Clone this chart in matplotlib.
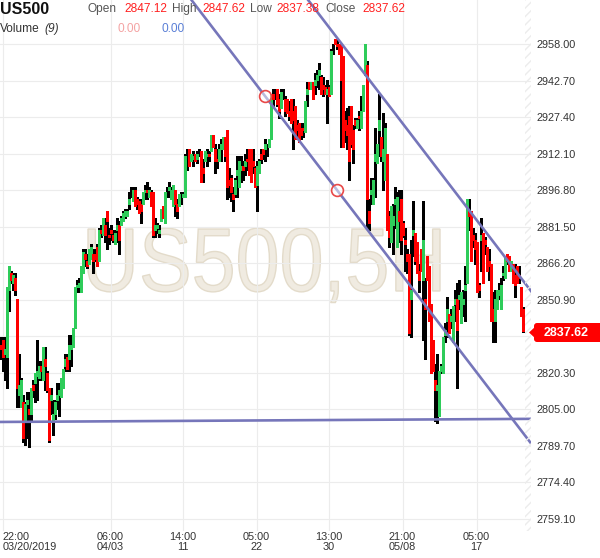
import matplotlib.pyplot as plt
import numpy as np
from matplotlib.patches import FancyBboxPatch, Polygon, Rectangle, PathPatch
from matplotlib.textpath import TextPath
from matplotlib.font_manager import FontProperties
from matplotlib.transforms import IdentityTransform, Affine2D

plt.rcParams['font.family'] = ['Liberation Sans', 'DejaVu Sans']

# US500 5H bars
opens = [
    2832, 2834, 2828, 2827, 2855, 2862, 2858, 2860, 2851, 2811,
    2806, 2808, 2800, 2807, 2805, 2803, 2815, 2816, 2819, 2818,
    2823, 2817, 2826, 2820, 2814, 2809, 2800, 2803, 2809, 2811,
    2810, 2814, 2823, 2827, 2826, 2830, 2831, 2839, 2856, 2856,
    2854, 2862, 2870, 2867, 2866, 2868, 2870, 2870, 2873, 2867,
    2880, 2878, 2882, 2888, 2878, 2880, 2878, 2874, 2880, 2882,
    2882, 2884, 2886, 2886, 2891, 2896, 2892, 2897, 2893, 2892,
    2891, 2891, 2896, 2897, 2894, 2896, 2896, 2880, 2881, 2879,
    2884, 2890, 2883, 2896, 2897, 2893, 2890, 2897, 2891, 2890,
    2893, 2894, 2894, 2909, 2914, 2909, 2910, 2912, 2910, 2912,
    2913, 2906, 2909, 2911, 2912, 2913, 2920, 2914, 2910, 2909,
    2914, 2914, 2919, 2922, 2901, 2902, 2895, 2895, 2903, 2898,
    2905, 2907, 2907, 2910, 2914, 2914, 2909, 2906, 2899, 2904,
    2912, 2914, 2914, 2914, 2915, 2918, 2937, 2937, 2939, 2935,
    2931, 2937, 2935, 2935, 2930, 2935, 2930, 2932, 2924, 2925,
    2923, 2923, 2921, 2937, 2942, 2939, 2942, 2941, 2943, 2945,
    2944, 2941, 2940, 2937, 2940, 2937, 2956, 2960, 2958, 2958,
    2958, 2953, 2926, 2924, 2928, 2932, 2922, 2926, 2923, 2928,
    2923, 2930, 2945, 2949, 2888, 2895, 2891, 2909, 2908, 2922,
    2919, 2909, 2901, 2912, 2886, 2875, 2882, 2891, 2873, 2888,
    2893, 2883, 2876, 2870, 2870, 2851, 2878, 2879, 2875, 2863,
    2872, 2859, 2851, 2869, 2865, 2849, 2834, 2817, 2813, 2802,
    2821, 2820, 2836, 2842, 2845, 2842, 2833, 2849, 2851, 2851,
    2841, 2849, 2855, 2858, 2888, 2888, 2878, 2876, 2875, 2857,
    2876, 2879, 2876, 2873, 2867, 2866, 2847, 2842, 2847, 2853,
    2847, 2861, 2860, 2870, 2869, 2863, 2866, 2861, 2865, 2861,
    2856, 2847.12,
]
highs = [
    2835, 2835, 2835, 2856, 2865, 2863, 2862, 2862, 2851, 2828,
    2818, 2811, 2808, 2812, 2812, 2814, 2817, 2820, 2834, 2825,
    2825, 2831, 2831, 2821, 2814, 2814, 2809, 2809, 2816, 2816,
    2818, 2822, 2828, 2828, 2836, 2836, 2839, 2856, 2859, 2860,
    2865, 2872, 2872, 2870, 2872, 2874, 2872, 2872, 2874, 2881,
    2882, 2885, 2885, 2888, 2881, 2882, 2880, 2880, 2885, 2884,
    2886, 2888, 2889, 2889, 2896, 2898, 2898, 2898, 2894, 2893,
    2893, 2896, 2899, 2900, 2898, 2897, 2896, 2885, 2883, 2882,
    2889, 2890, 2896, 2898, 2900, 2898, 2899, 2897, 2893, 2895,
    2896, 2896, 2912, 2914, 2914, 2912, 2913, 2912, 2913, 2914,
    2913, 2910, 2913, 2914, 2913, 2920, 2920, 2916, 2914, 2916,
    2918, 2919, 2919, 2922, 2906, 2903, 2898, 2902, 2911, 2911,
    2911, 2909, 2912, 2914, 2914, 2914, 2914, 2907, 2909, 2910,
    2914, 2914, 2918, 2916, 2918, 2937, 2939, 2939, 2939, 2937,
    2939, 2939, 2936, 2935, 2934, 2935, 2935, 2932, 2926, 2925,
    2925, 2925, 2934, 2942, 2942, 2942, 2942, 2946, 2947, 2950,
    2945, 2944, 2941, 2943, 2941, 2956, 2958, 2960, 2960, 2958,
    2958, 2953, 2930, 2931, 2932, 2932, 2924, 2927, 2927, 2930,
    2936, 2941, 2958, 2951, 2893, 2902, 2902, 2923, 2916, 2937,
    2919, 2929, 2925, 2912, 2888, 2890, 2891, 2898, 2896, 2897,
    2897, 2884, 2881, 2872, 2870, 2876, 2892, 2879, 2875, 2866,
    2872, 2892, 2860, 2869, 2865, 2849, 2834, 2824, 2828, 2821,
    2824, 2835, 2841, 2852, 2845, 2847, 2848, 2855, 2858, 2859,
    2854, 2855, 2865, 2893, 2893, 2888, 2881, 2879, 2875, 2858,
    2885, 2879, 2877, 2873, 2872, 2866, 2854, 2855, 2855, 2858,
    2860, 2865, 2869, 2870, 2869, 2867, 2866, 2866, 2865, 2865,
    2856, 2847.62,
]
lows = [
    2826, 2821, 2817, 2814, 2846, 2858, 2855, 2853, 2806, 2806,
    2806, 2791, 2790, 2793, 2789, 2800, 2810, 2808, 2809, 2817,
    2817, 2817, 2813, 2812, 2791, 2803, 2794, 2801, 2805, 2802,
    2810, 2814, 2821, 2821, 2821, 2823, 2831, 2839, 2854, 2854,
    2854, 2862, 2865, 2864, 2866, 2868, 2862, 2867, 2865, 2867,
    2877, 2878, 2875, 2872, 2874, 2876, 2875, 2874, 2875, 2870,
    2882, 2884, 2885, 2886, 2889, 2894, 2892, 2890, 2889, 2887,
    2883, 2891, 2893, 2893, 2894, 2890, 2877, 2877, 2879, 2877,
    2884, 2885, 2883, 2894, 2894, 2893, 2890, 2886, 2885, 2890,
    2891, 2894, 2894, 2905, 2907, 2909, 2907, 2909, 2908, 2911,
    2900, 2900, 2909, 2907, 2909, 2913, 2915, 2904, 2906, 2909,
    2909, 2914, 2909, 2893, 2894, 2892, 2888, 2894, 2894, 2898,
    2900, 2901, 2903, 2905, 2903, 2900, 2904, 2898, 2888, 2904,
    2908, 2910, 2909, 2911, 2915, 2918, 2932, 2935, 2932, 2927,
    2931, 2935, 2928, 2929, 2926, 2925, 2914, 2918, 2919, 2917,
    2918, 2919, 2921, 2932, 2939, 2939, 2935, 2937, 2940, 2939,
    2937, 2936, 2937, 2925, 2936, 2937, 2954, 2958, 2956, 2954,
    2915, 2915, 2917, 2914, 2901, 2915, 2908, 2923, 2923, 2922,
    2923, 2930, 2945, 2881, 2880, 2891, 2891, 2894, 2908, 2911,
    2909, 2897, 2901, 2880, 2873, 2875, 2870, 2881, 2873, 2875,
    2870, 2877, 2863, 2862, 2836, 2835, 2869, 2866, 2862, 2854,
    2863, 2834, 2826, 2859, 2842, 2820, 2821, 2800, 2799, 2802,
    2820, 2820, 2833, 2835, 2837, 2839, 2833, 2842, 2814, 2847,
    2841, 2844, 2842, 2858, 2880, 2867, 2873, 2866, 2854, 2852,
    2863, 2858, 2870, 2863, 2859, 2842, 2833, 2833, 2847, 2851,
    2847, 2859, 2860, 2866, 2863, 2863, 2858, 2852, 2858, 2858,
    2844, 2837.38,
]
closes = [
    2830, 2827, 2830, 2856, 2865, 2859, 2861, 2855, 2814, 2815,
    2817, 2793, 2807, 2809, 2803, 2814, 2813, 2820, 2821, 2823,
    2821, 2831, 2823, 2813, 2792, 2811, 2803, 2808, 2811, 2813,
    2818, 2822, 2826, 2822, 2832, 2832, 2839, 2856, 2857, 2858,
    2865, 2871, 2868, 2865, 2872, 2873, 2867, 2868, 2865, 2880,
    2879, 2885, 2878, 2884, 2877, 2879, 2876, 2879, 2882, 2876,
    2885, 2887, 2888, 2888, 2893, 2896, 2897, 2890, 2891, 2887,
    2888, 2896, 2897, 2896, 2897, 2890, 2878, 2882, 2882, 2880,
    2889, 2885, 2896, 2896, 2898, 2897, 2899, 2891, 2888, 2895,
    2893, 2895, 2911, 2909, 2907, 2912, 2911, 2909, 2912, 2912,
    2900, 2904, 2913, 2912, 2911, 2920, 2915, 2909, 2909, 2914,
    2916, 2919, 2911, 2898, 2899, 2896, 2893, 2901, 2905, 2909,
    2907, 2905, 2909, 2909, 2903, 2900, 2907, 2898, 2907, 2909,
    2910, 2912, 2916, 2914, 2918, 2937, 2935, 2937, 2933, 2930,
    2938, 2937, 2930, 2929, 2928, 2925, 2926, 2918, 2922, 2917,
    2920, 2922, 2934, 2939, 2939, 2942, 2935, 2943, 2945, 2947,
    2937, 2939, 2937, 2939, 2936, 2955, 2956, 2958, 2957, 2954,
    2943, 2915, 2922, 2920, 2909, 2916, 2914, 2924, 2926, 2927,
    2930, 2941, 2958, 2893, 2883, 2897, 2901, 2912, 2916, 2926,
    2911, 2914, 2923, 2880, 2877, 2890, 2886, 2893, 2894, 2884,
    2876, 2878, 2874, 2867, 2837, 2855, 2880, 2867, 2862, 2859,
    2863, 2876, 2847, 2859, 2842, 2820, 2821, 2813, 2815, 2821,
    2823, 2835, 2838, 2847, 2837, 2844, 2848, 2851, 2838, 2853,
    2854, 2851, 2857, 2893, 2886, 2867, 2876, 2872, 2854, 2855,
    2878, 2858, 2874, 2863, 2865, 2842, 2842, 2851, 2855, 2855,
    2857, 2862, 2869, 2867, 2863, 2867, 2858, 2857, 2858, 2860,
    2844, 2837.62,
]

tick_pos = [1, 55, 91, 128, 164, 201, 238]
tick_labels = ['22:00\n03/20/2019', '06:00\n04/03', '14:00\n11', '05:00\n22',
               '13:00\n30', '21:00\n05/08', '05:00\n17']
price_ticks = [2958.00, 2942.70, 2927.40, 2912.10, 2896.80, 2881.50, 2866.20,
               2850.90, 2835.60, 2820.30, 2805.00, 2789.70, 2774.40, 2759.10]

# drawn objects: channel anchors (bar, price) and a support line
chan_a = (132.25, 2936.2)
chan_b = (168.25, 2896.8)
chan_c = (167.0, 2962.0)
support = [(-0.25, 2799.6), (265.25, 2800.9)]

W, H = 600, 558
def fx(x):
    return x / W
def fy(y):
    return 1 - y / H

fig = plt.figure(figsize=(6, 5.58), dpi=100)
ax = fig.add_axes([0, fy(531), 531 / W, 531 / H])
ax.set_xlim(-0.25, 265.25)
ax.set_ylim(2753.9, 2976.44)
for s in ax.spines.values():
    s.set_visible(False)

ax.set_axisbelow(True)
ax.grid(True, color='#ececec', lw=0.8)
ax.yaxis.tick_right()
ax.set_yticks(price_ticks)
# the 2835.60 label sits under the last-price tag
ax.set_yticklabels(['' if abs(p - 2835.6) < 0.01 else '%.2f' % p for p in price_ticks])
ax.set_xticks(tick_pos)
ax.set_xticklabels(tick_labels, linespacing=0.95)
ax.tick_params(axis='both', length=0, labelsize=7.8, labelcolor='#333333')
ax.tick_params(axis='y', pad=4)
ax.tick_params(axis='x', pad=1)
xl = ax.get_xticklabels()
xl[0].set_ha('left')
xl[0].set_multialignment('left')
for t in xl[1:]:
    t.set_multialignment('center')

# watermark
prop = FontProperties(family='Liberation Sans')
wm = TextPath((0, 0), 'US500,5H', size=100, prop=prop)
capH = TextPath((0, 0), 'H', size=100, prop=prop).get_extents().height
ext = wm.get_extents()
sx = 352 / ext.width
sy = 62 / capH
tr = Affine2D().translate(-ext.x0, 0).scale(sx, sy).translate(88, H - 291)
wm_patch = PathPatch(tr.transform_path(wm), transform=IdentityTransform(),
                     facecolor='#f0ebe1', edgecolor='#e3dbca', lw=1, zorder=0.3)
ax.add_patch(wm_patch)

# candles: black high-low wick, coloured open-close body
idx = np.arange(len(opens))
o = np.array(opens)
c = np.array(closes)
body_col = np.where(c >= o, '#2ecc5a', '#ff0000')
ax.vlines(idx, lows, highs, color='black', lw=0.8, zorder=2, antialiased=False)
ax.vlines(idx, opens, closes, colors=body_col, lw=0.8, zorder=3, antialiased=False)

# channel
xs = np.array([-10, 280])
slope = (chan_b[1] - chan_a[1]) / (chan_b[0] - chan_a[0])
line_col = '#7676ba'
ax.plot(xs, chan_a[1] + slope * (xs - chan_a[0]), color=line_col, lw=1.9, zorder=4)
ax.plot(xs, chan_c[1] + slope * (xs - chan_c[0]), color=line_col, lw=1.9, zorder=4)
ax.plot([support[0][0], support[1][0]], [support[0][1], support[1][1]],
        color=line_col, lw=1.9, zorder=4)
ax.plot([chan_a[0], chan_b[0]], [chan_a[1], chan_b[1]], 'o', ms=8.5,
        mfc=(1, 1, 1, 0.5), mec='#e84848', mew=1.2, zorder=5)

# hatched strip at right edge of plot
fig.patches.append(Rectangle((fx(525), fy(531)), 6 / W, 531 / H, transform=fig.transFigure,
                             fill=False, hatch='////', edgecolor='#ececec', lw=0))

# last price tag
fig.patches.append(FancyBboxPatch((534, H - 342), 70, 19, boxstyle='round,pad=0,rounding_size=3',
                                  transform=IdentityTransform(), facecolor='#ff0000', edgecolor='none'))
fig.patches.append(Polygon([(529, H - 332.5), (536, H - 326), (536, H - 339)], closed=True,
                           transform=IdentityTransform(), facecolor='#ff0000', edgecolor='none'))
fig.text(fx(566), fy(332.5), '%.2f' % closes[-1], color='white', fontsize=9, fontweight='bold',
         ha='center', va='center')

# header
r1 = fy(9)
fig.text(0, r1, 'US500', fontsize=11.5, fontweight='bold', color='#111111', va='center')
hdr = [(88, 'Open', '#555555'), (124, '%.2f' % opens[-1], '#ff2020'),
       (172, 'High', '#555555'), (202, '%.2f' % highs[-1], '#ff2020'),
       (250, 'Low', '#555555'), (276, '%.2f' % lows[-1], '#ff2020'),
       (325, 'Close', '#555555'), (362, '%.2f' % closes[-1], '#ff2020')]
for x, s, col in hdr:
    fig.text(fx(x), r1, s, fontsize=8.6, color=col, va='center')
r2 = fy(29)
fig.text(0, r2, 'Volume', fontsize=8.6, color='#333333', va='center')
fig.text(fx(44), r2, '(9)', fontsize=8.6, color='#333333', va='center', style='italic')
fig.text(fx(117), r2, '0.00', fontsize=8.6, color='#f4a3a3', va='center')
fig.text(fx(162), r2, '0.00', fontsize=8.6, color='#5a7fd6', va='center')

fig.savefig('out.png', dpi=100)
